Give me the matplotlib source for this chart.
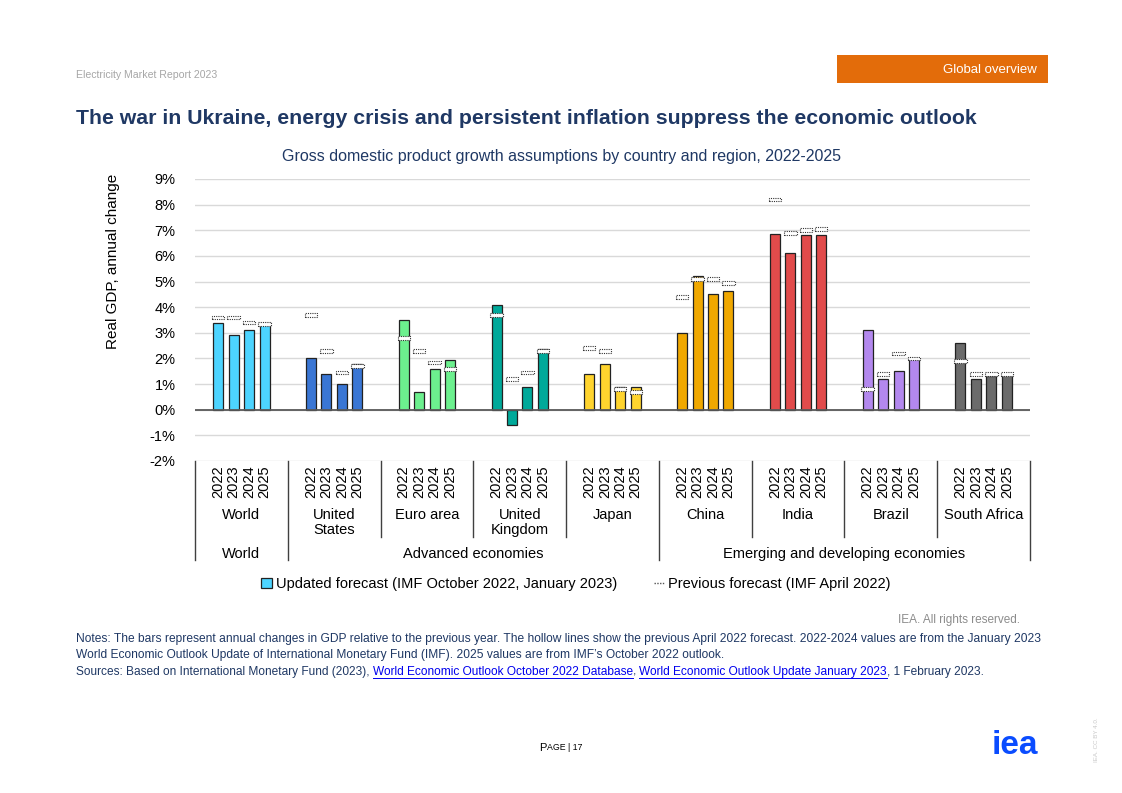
import matplotlib
matplotlib.use('Agg')
import matplotlib.pyplot as plt
import matplotlib.patches as patches
from matplotlib.lines import Line2D
import matplotlib.transforms as mtransforms

plt.rcParams['font.family'] = ['Liberation Sans', 'DejaVu Sans']

# data
groups = ["World", "United\nStates", "Euro area", "United\nKingdom", "Japan",
          "China", "India", "Brazil", "South Africa"]
years = ["2022", "2023", "2024", "2025"]
updated = [
    [3.4, 2.9, 3.1, 3.4],
    [2.0, 1.4, 1.0, 1.8],
    [3.5, 0.7, 1.6, 1.95],
    [4.1, -0.6, 0.9, 2.35],
    [1.4, 1.8, 0.9, 0.9],
    [3.0, 5.2, 4.5, 4.65],
    [6.85, 6.1, 6.8, 6.8],
    [3.1, 1.2, 1.5, 2.0],
    [2.6, 1.2, 1.3, 1.4],
]
previous = [
    [3.6, 3.6, 3.4, 3.35],
    [3.7, 2.3, 1.45, 1.7],
    [2.8, 2.3, 1.85, 1.6],
    [3.7, 1.2, 1.45, 2.3],
    [2.4, 2.3, 0.8, 0.7],
    [4.4, 5.1, 5.1, 4.95],
    [8.2, 6.9, 7.0, 7.05],
    [0.8, 1.4, 2.2, 2.0],
    [1.9, 1.4, 1.4, 1.4],
]
colors = ["#4DD4FF", "#3A76D4", "#6CF08E", "#00A99A", "#FFD42E",
          "#F0A800", "#E14B4B", "#B388EE", "#6B6B6B"]
top_groups = [("World", 0, 1), ("Advanced economies", 1, 5),
              ("Emerging and developing economies", 5, 9)]
yticks = list(range(-2, 10))

navy = "#1F3864"
GW = 6  # slots per group

fig = plt.figure(figsize=(11.22, 7.93), dpi=100)
ax = fig.add_axes([195 / 1122, 1 - 461 / 793, 835 / 1122, 282 / 793])

for g, (vals, prev) in enumerate(zip(updated, previous)):
    xs = [g * GW + 1.5 + j for j in range(len(years))]
    ax.bar(xs, vals, width=0.65, color=colors[g], edgecolor="#222222",
           linewidth=0.9, zorder=3)
    h = 0.14
    ax.bar(xs, [h] * len(prev), bottom=[p - h / 2 for p in prev], width=0.8,
           color="white", edgecolor="#333333", linewidth=0.8, linestyle=(0, (1, 1)),
           zorder=4)

ax.set_xlim(0, GW * len(groups))
ax.set_ylim(-2, 9)
ax.set_yticks(yticks)
ax.set_yticklabels([f"{t}%" for t in yticks], fontsize=10.5)
ax.tick_params(axis='y', length=0, pad=14)
ax.set_xticks([])
ax.grid(axis='y', color="#D9D9D9", linewidth=1, zorder=0)
ax.axhline(0, color="#595959", linewidth=1.3, zorder=5)
for s in ax.spines.values():
    s.set_visible(False)

fig.text(113 / 1122, 1 - 261 / 793, "Real GDP, annual change", rotation=90,
         ha='center', va='center', fontsize=11)

# multi-level category axis
trans = mtransforms.blended_transform_factory(ax.transData, ax.transAxes)
for g, name in enumerate(groups):
    for j, yr in enumerate(years):
        ax.text(g * GW + 1.5 + j, -0.015, yr, rotation=90, ha='center', va='top',
                fontsize=10.5, transform=trans)
    ax.text(g * GW + GW / 2, -0.165, name, ha='center', va='top', fontsize=10.5,
            linespacing=1.15, transform=trans)

top_edges = set()
for name, a, b in top_groups:
    top_edges.update([a * GW, b * GW])
    ax.text((a + b) * GW / 2, -0.305, name, ha='center', va='top',
            fontsize=10.5, transform=trans)
for g in range(len(groups) + 1):
    xb = g * GW
    low = -0.351 if xb in top_edges else -0.27
    ax.plot([xb, xb], [0, low], color="#404040", linewidth=1, transform=trans,
            clip_on=False)

# legend
handles = [patches.Patch(facecolor=colors[0], edgecolor="#222222", linewidth=0.9),
           Line2D([0], [0], color="#555555", linewidth=1, linestyle=(0, (1, 1)))]
fig.legend(handles, ["Updated forecast (IMF October 2022, January 2023)",
                     "Previous forecast (IMF April 2022)"],
           loc='center', bbox_to_anchor=(576 / 1122, 1 - 584 / 793), ncol=2,
           frameon=False, fontsize=10.5, handlelength=0.7, handleheight=0.7,
           handletextpad=0.3, columnspacing=2.5)

# page furniture
fig.text(76 / 1122, 1 - 75 / 793, "Electricity Market Report 2023", fontsize=7.6,
         color="#A6A6A6", va='center')
fig.patches.append(patches.Rectangle((837 / 1122, 1 - 83 / 793), 211 / 1122, 28 / 793,
                                     transform=fig.transFigure, facecolor="#E36C0A",
                                     edgecolor='none'))
fig.text(1037 / 1122, 1 - 70 / 793, "Global overview", fontsize=9.5, color="white",
         ha='right', va='center')
fig.text(76 / 1122, 1 - 119 / 793,
         "The war in Ukraine, energy crisis and persistent inflation suppress the economic outlook",
         fontsize=15.35, fontweight='bold', color=navy, va='center')
fig.text(561 / 1122, 1 - 156 / 793,
         "Gross domestic product growth assumptions by country and region, 2022-2025",
         fontsize=11.5, color=navy, ha='center', va='center')
fig.text(1020 / 1122, 1 - 620 / 793, "IEA. All rights reserved.", fontsize=8.5,
         color="#8C8C8C", ha='right', va='center')

notes = ("Notes: The bars represent annual changes in GDP relative to the previous year. "
         "The hollow lines show the previous April 2022 forecast. 2022-2024 values are from the January 2023\n"
         "World Economic Outlook Update of International Monetary Fund (IMF). "
         "2025 values are from IMF\u2019s October 2022 outlook.")
fig.text(76 / 1122, 1 - 633 / 793, notes, fontsize=8.65, color=navy, va='top',
         linespacing=1.42)

src_y = 1 - 672 / 793
parts = [("Sources: Based on International Monetary Fund (2023), ", navy, False),
         ("World Economic Outlook October 2022 Database", "#0000EE", True),
         (", ", navy, False),
         ("World Economic Outlook Update January 2023", "#0000EE", True),
         (", 1 February 2023.", navy, False)]
fig.canvas.draw()
renderer = fig.canvas.get_renderer()
x0 = 76 / 1122
for txt, col, link in parts:
    t = fig.text(x0, src_y, txt, fontsize=8.6, color=col, va='center')
    bb = t.get_window_extent(renderer=renderer)
    w = bb.width / fig.bbox.width
    if link:
        uy = src_y - 6 / 793
        fig.add_artist(Line2D([x0, x0 + w], [uy, uy], color=col, linewidth=0.7,
                              transform=fig.transFigure))
    x0 += w

fig.text(539 / 1122, 1 - 748 / 793, "P", fontsize=8, va='center')
fig.text(547 / 1122, 1 - 748 / 793, "AGE | 17", fontsize=6.3, va='center')
fig.text(1015 / 1122, 1 - 746 / 793, "iea", fontsize=24, fontweight='bold',
         color="#0A4CFF", ha='center', va='center')
fig.text(1097 / 1122, 1 - 740 / 793, "IEA. CC BY 4.0.", fontsize=4.5, color="#C8C8C8",
         rotation=90, ha='center', va='center')

fig.savefig("out.png", dpi=100)
